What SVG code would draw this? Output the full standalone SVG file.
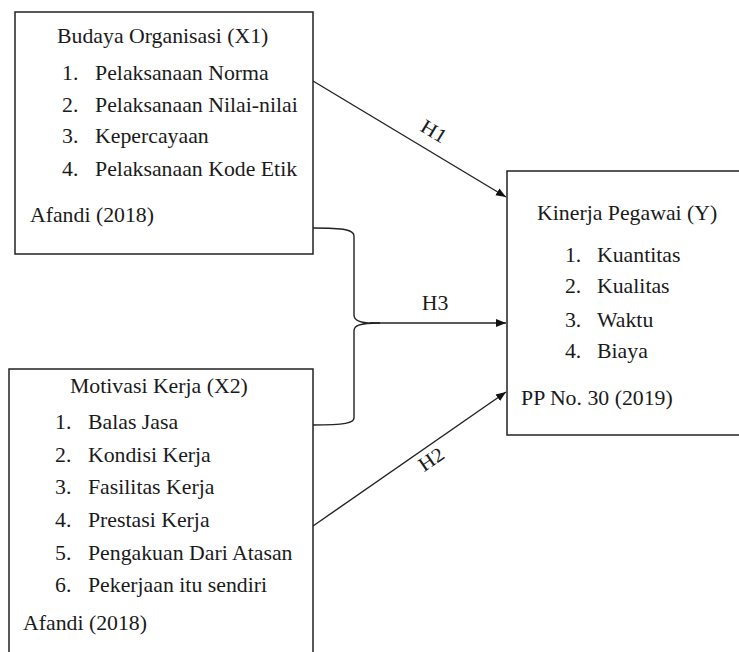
<svg xmlns="http://www.w3.org/2000/svg" width="739" height="652" viewBox="0 0 739 652">
<style>
.box{fill:#fff;stroke:#222;stroke-width:1.5}
text{font-family:"Liberation Serif","Times New Roman",serif;font-size:20px;fill:#1a1a1a}
.c{fill:none;stroke:#222;stroke-width:1.4}
</style>
<defs>
<marker id="ah" viewBox="0 0 10 10" refX="10" refY="5" markerWidth="10" markerHeight="10" markerUnits="userSpaceOnUse" orient="auto">
<path d="M0,1 L10,5 L0,9 Z" fill="#111"/>
</marker>
</defs>
<rect width="739" height="652" fill="#fff"/>
<g id="connectors">
<line class="c" x1="313" y1="81" x2="506" y2="197" marker-end="url(#ah)"/>
<line class="c" x1="313" y1="526" x2="506" y2="392" marker-end="url(#ah)"/>
<path class="c" d="M313,228 C345,228 354,230 354,236 L354,315 C354,320 358,323 372,323 L380,323 C358,323 354,326 354,331 L354,418 C354,423 345,425 313,425"/>
<line class="c" x1="370" y1="323" x2="506" y2="323" marker-end="url(#ah)"/>
<text transform="translate(434,131) rotate(31) scale(1.09,1)" text-anchor="middle" dy="7">H1</text>
<text transform="translate(435,310) scale(1.09,1)" text-anchor="middle">H3</text>
<text transform="translate(431,459) rotate(-34.4) scale(1.09,1)" text-anchor="middle" dy="7">H2</text>
</g>
<g id="x1">
<rect class="box" x="15" y="12" width="298" height="242"/>
<g transform="scale(1.09,1)">
<text x="52.3" y="43">Budaya Organisasi (X1)</text>
<text x="56.9" y="80">1.</text><text x="87.2" y="80">Pelaksanaan Norma</text>
<text x="56.9" y="112">2.</text><text x="87.2" y="112">Pelaksanaan Nilai-nilai</text>
<text x="56.9" y="143">3.</text><text x="87.2" y="143">Kepercayaan</text>
<text x="56.9" y="176">4.</text><text x="87.2" y="176">Pelaksanaan Kode Etik</text>
<text x="27.5" y="222">Afandi (2018)</text>
</g>
</g>
<g id="y">
<rect class="box" x="507" y="171" width="240" height="264"/>
<g transform="scale(1.09,1)">
<text x="492.7" y="220">Kinerja Pegawai (Y)</text>
<text x="518.3" y="262">1.</text><text x="547.7" y="262">Kuantitas</text>
<text x="518.3" y="293">2.</text><text x="547.7" y="293">Kualitas</text>
<text x="518.3" y="327">3.</text><text x="547.7" y="327">Waktu</text>
<text x="518.3" y="358">4.</text><text x="547.7" y="358">Biaya</text>
<text x="478" y="405">PP No. 30 (2019)</text>
</g>
</g>
<g id="x2">
<rect class="box" x="9" y="369" width="304" height="300"/>
<g transform="scale(1.09,1)">
<text x="64.2" y="393">Motivasi Kerja (X2)</text>
<text x="50.5" y="429">1.</text><text x="80.7" y="429">Balas Jasa</text>
<text x="50.5" y="462">2.</text><text x="80.7" y="462">Kondisi Kerja</text>
<text x="50.5" y="494">3.</text><text x="80.7" y="494">Fasilitas Kerja</text>
<text x="50.5" y="527">4.</text><text x="80.7" y="527">Prestasi Kerja</text>
<text x="50.5" y="560">5.</text><text x="80.7" y="560">Pengakuan Dari Atasan</text>
<text x="50.5" y="592">6.</text><text x="80.7" y="592">Pekerjaan itu sendiri</text>
<text x="21.1" y="630">Afandi (2018)</text>
</g>
</g>
</svg>
